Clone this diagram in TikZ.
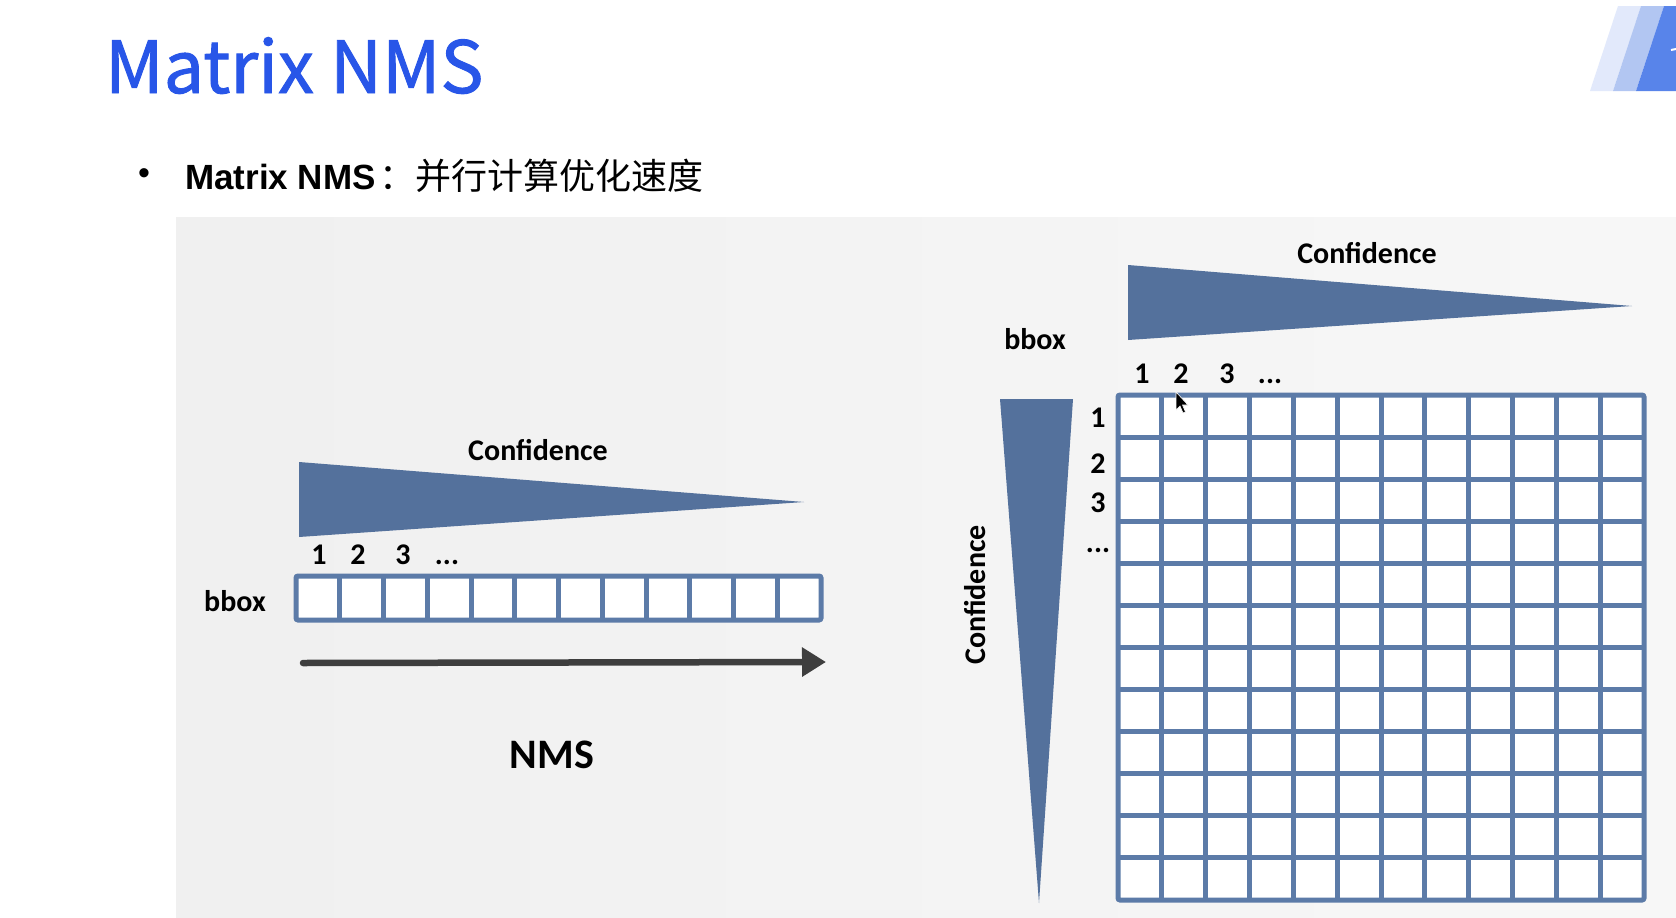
\documentclass[tikz,border=0pt]{standalone}
\usepackage{fontspec}
\setmainfont{Carlito}
\newfontfamily\cjk{Noto Sans CJK SC}
\newfontfamily\headfont[FakeBold=1.3]{Noto Sans CJK SC}
\newfontfamily\arialike{Liberation Sans}
\usetikzlibrary{arrows.meta}
\definecolor{titleblue}{RGB}{40,86,232}
\definecolor{steel}{RGB}{84,113,156}
\definecolor{gridblue}{RGB}{92,123,168}
\definecolor{arrowgray}{RGB}{62,62,62}
\definecolor{decoA}{RGB}{226,233,251}
\definecolor{decoB}{RGB}{178,198,242}
\definecolor{decoC}{RGB}{88,132,234}
\begin{document}
\begin{tikzpicture}[x=1pt,y=-1pt,
  lbl/.style={font=\fontsize{30}{36}\selectfont\bfseries, inner sep=0pt, anchor=base},
  gridline/.style={draw=gridblue, line width=5pt},
  wedge/.style={fill=steel}]
\useasboundingbox (0,0) rectangle (1676,918);
\fill[white] (0,0) rectangle (1676,918);

% corner decoration
\fill[decoA] (1590,91) -- (1618,6) -- (1641,6) -- (1613,91) -- cycle;
\fill[decoB] (1613,91) -- (1641,6) -- (1664,6) -- (1636,91) -- cycle;
\fill[decoC] (1636,91) -- (1664,6) -- (1676,6) -- (1676,91) -- cycle;
\draw[white, line width=2pt] (1671,50) -- (1676,49);

% heading and bullet line
\node[anchor=base west, inner sep=0pt, text=titleblue,
      font=\headfont\fontsize{72}{84}\selectfont] (title) at (105,93) {Matrix NMS};
\node[anchor=center, inner sep=0pt, font=\arialike\fontsize{34}{40}\selectfont] (bullet) at (144,177) {•};
\node[anchor=base west, inner sep=0pt] (subtitle) at (185,189)
  {{\arialike\bfseries\fontsize{35}{42}\selectfont Matrix NMS\hspace{4pt}}{\cjk\fontsize{36}{42}\selectfont ：并行计算优化速度}};

% background panel
\shade[left color=black!6, right color=black!3] (176,217) rectangle (1676,918);

% ---- sequential NMS ----
\node[lbl] (confL) at (538,460) {Confidence};
\fill[wedge] (299,462) -- (299,537) -- (804,502) -- cycle;
\node[lbl] (nL1) at (319,564) {1};
\node[lbl] (nL2) at (358,564) {2};
\node[lbl] (nL3) at (403,564) {3};
\node[lbl] (nLd) at (447,564) {...};
\node[lbl] (bboxL) at (235,611) {bbox};

\fill[white] (296,576) rectangle (821,620);
\foreach \i in {1,...,11}
  \draw[gridline] ({296+\i*43.75},576) -- ++(0,44);
\draw[gridline, rounded corners=2pt] (296,576) rectangle (821,620);

\coordinate (arrS) at (303,663);
\coordinate (arrE) at (826,662);
\draw[arrowgray, line width=6.5pt, line cap=round,
      -{Triangle[length=24pt,width=28pt]}] (arrS) -- (arrE);
\node[font=\fontsize{42}{48}\selectfont\bfseries, inner sep=0pt, anchor=base] (nms) at (552,768) {NMS};

% ---- matrix NMS ----
\node[lbl] (confT) at (1367,263) {Confidence};
\fill[wedge] (1128,265) -- (1128,340) -- (1632,306) -- cycle;
\node[lbl] (bboxR) at (1035,349) {bbox};
\node[lbl] (c1) at (1142,383) {1};
\node[lbl] (c2) at (1181,383) {2};
\node[lbl] (c3) at (1227,383) {3};
\node[lbl] (cd) at (1270,383) {...};

\node[lbl] (r1) at (1098,427) {1};
\node[lbl] (r2) at (1098,473) {2};
\node[lbl] (r3) at (1098,512) {3};
\node[lbl] (rd) at (1098,552) {...};

\fill[wedge] (1000,399) -- (1073,399) -- (1039,903) -- cycle;
\node[font=\fontsize{30}{36}\selectfont\bfseries, inner sep=0pt, rotate=90] (confV) at (975,595) {Confidence};

\fill[white] (1118,395) rectangle (1644,900);
\foreach \i in {1,...,11} {
  \draw[gridline] ({1118+\i*43.833},395) -- ++(0,505);
  \draw[gridline] (1118,{395+\i*42.083}) -- ++(526,0);
}
\draw[gridline, rounded corners=2pt] (1118,395) rectangle (1644,900);

% pointer
\fill[black, draw=white, line width=0.6pt] (1176,392) -- ++(0,18) -- ++(4,-4) -- ++(3,7)
  -- ++(2.5,-1) -- ++(-3,-7) -- ++(5.5,0) -- cycle;
\end{tikzpicture}
\end{document}
